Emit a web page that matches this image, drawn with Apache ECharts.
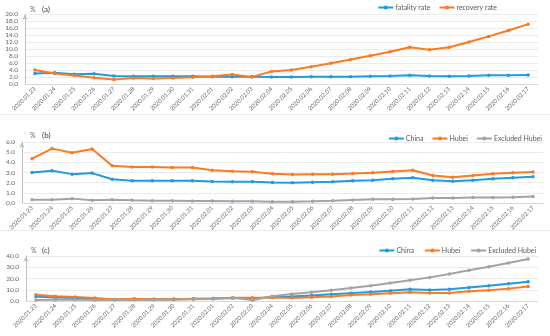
<!DOCTYPE html>
<html>
<head>
<meta charset="utf-8">
<script src="https://cdn.jsdelivr.net/npm/echarts@6/dist/echarts.min.js"></script>
<style>html,body{margin:0;padding:0;background:#fff}#c{width:550px;height:336px}</style>
</head>
<body>
<div id="c"></div>
<script>
const categories = ['2020.01.23','2020.01.24','2020.01.25','2020.01.26','2020.01.27','2020.01.28','2020.01.29','2020.01.30','2020.01.31','2020.02.01','2020.02.02','2020.02.03','2020.02.04','2020.02.05','2020.02.06','2020.02.07','2020.02.08','2020.02.09','2020.02.10','2020.02.11','2020.02.12','2020.02.13','2020.02.14','2020.02.15','2020.02.16','2020.02.17'];

// panel (a)
const fatalityRate = [3.0,3.2,2.8,2.9,2.3,2.2,2.2,2.2,2.2,2.1,2.1,2.1,2.0,2.0,2.05,2.1,2.1,2.2,2.3,2.5,2.3,2.2,2.3,2.5,2.5,2.6];
const recoveryRate = [4.0,3.0,2.4,1.8,1.3,1.7,1.6,1.7,1.9,2.2,2.7,2.0,3.6,4.0,4.9,5.9,7.0,8.1,9.2,10.5,9.8,10.5,12.0,13.6,15.3,17.1];

// panel (b)
const bChina = [3.0,3.17,2.84,2.94,2.34,2.18,2.18,2.18,2.18,2.11,2.08,2.08,2.01,1.98,2.05,2.08,2.18,2.24,2.38,2.48,2.24,2.14,2.24,2.38,2.48,2.57];
const bHubei = [4.36,5.35,4.95,5.31,3.66,3.53,3.53,3.5,3.5,3.23,3.13,3.07,2.87,2.8,2.84,2.84,2.9,2.97,3.1,3.23,2.7,2.54,2.7,2.87,2.97,3.04];
const bExcl = [0.33,0.33,0.43,0.26,0.33,0.26,0.23,0.23,0.2,0.2,0.17,0.17,0.13,0.13,0.17,0.23,0.3,0.36,0.36,0.4,0.5,0.5,0.53,0.53,0.56,0.63];

// panel (c)
const cChina = [3.9,3.0,2.6,1.8,1.3,1.6,1.6,1.7,1.9,2.2,2.7,2.0,3.6,4.0,4.9,5.9,7.0,8.1,9.2,10.5,9.8,10.5,12.0,13.6,15.3,17.1];
const cHubei = [5.6,4.2,3.6,2.7,1.4,1.9,1.6,1.6,1.9,2.2,2.8,3.0,3.0,2.7,3.3,4.1,5.3,5.9,6.8,7.7,7.1,7.1,8.6,9.5,11.0,12.8];
const cExcl = [0.9,1.1,1.1,0.9,0.9,0.9,1.2,1.2,1.5,1.8,3.0,0.6,4.2,6.2,7.7,9.5,11.6,13.6,16.0,18.4,21.0,24.0,27.3,30.5,33.8,37.3];

const BLUE = '#1f9be0', ORANGE = '#fb7a22', GRAY = '#a3a3a3';
const FONT = 'Lato, "Open Sans", sans-serif';

function xAx(i) {
  return {
    type: 'category', gridIndex: i, data: categories, boundaryGap: true,
    axisLine: { lineStyle: { color: '#d9d9d9' } },
    axisTick: { show: false },
    axisLabel: { rotate: 45, fontSize: 6, color: '#666', margin: 4, fontFamily: FONT, interval: 0 }
  };
}
function yAx(i, max, interval) {
  return {
    type: 'value', gridIndex: i, min: 0, max: max, interval: interval,
    axisLine: { show: true, symbol: ['none', 'arrow'], symbolSize: [4, 6], lineStyle: { color: '#bfbfbf', width: 1 } },
    axisTick: { show: false },
    splitLine: { lineStyle: { color: '#ebebeb' } },
    axisLabel: { fontSize: 6.5, color: '#666', margin: 7, fontFamily: FONT, formatter: v => v.toFixed(1) }
  };
}
function ser(name, data, color, i) {
  return {
    name: name, type: 'line', xAxisIndex: i, yAxisIndex: i, data: data,
    symbol: 'circle', symbolSize: 3.5, showSymbol: true,
    lineStyle: { color: color, width: 2 }, itemStyle: { color: color },
    emphasis: { disabled: true }
  };
}
const legendCommon = {
  orient: 'horizontal', padding: 0,
  itemWidth: 15, itemHeight: 5, itemGap: 8,
  textStyle: { fontSize: 7, color: '#595959', fontFamily: FONT, padding: [0, 0, 0, -3] },
  selectedMode: false
};

const option = {
  animation: false,
  backgroundColor: '#fff',
  grid: [
    { left: 25, right: 12, top: 14, height: 70 },
    { left: 22, right: 7, top: 142, height: 61 },
    { left: 26, right: 12, top: 256, height: 45 }
  ],
  xAxis: [xAx(0), xAx(1), xAx(2)],
  yAxis: [yAx(0, 20, 2), yAx(1, 6, 1), yAx(2, 40, 10)],
  legend: [
    Object.assign({}, legendCommon, { data: ['fatality rate', 'recovery rate'], right: 53, top: 4 }),
    Object.assign({}, legendCommon, { data: ['China', 'Hubei', 'Excluded Hubei'], right: 8, top: 135 }),
    Object.assign({}, legendCommon, { data: ['China ', 'Hubei ', 'Excluded Hubei '], right: 12, top: 247 })
  ],
  series: [
    ser('fatality rate', fatalityRate, BLUE, 0),
    ser('recovery rate', recoveryRate, ORANGE, 0),
    ser('China', bChina, BLUE, 1),
    ser('Hubei', bHubei, ORANGE, 1),
    ser('Excluded Hubei', bExcl, GRAY, 1),
    ser('China ', cChina, BLUE, 2),
    ser('Hubei ', cHubei, ORANGE, 2),
    ser('Excluded Hubei ', cExcl, GRAY, 2)
  ],
  graphic: [
    { type: 'text', left: 30, top: 6, style: { text: '%', fontSize: 7, fill: '#666', fontFamily: FONT } },
    { type: 'text', left: 42, top: 5, style: { text: '(a)', fontSize: 8, fill: '#444', fontFamily: FONT } },
    { type: 'text', left: 30, top: 132, style: { text: '%', fontSize: 7, fill: '#666', fontFamily: FONT } },
    { type: 'text', left: 42, top: 131, style: { text: '(b)', fontSize: 8, fill: '#444', fontFamily: FONT } },
    { type: 'text', left: 31, top: 247, style: { text: '%', fontSize: 7, fill: '#666', fontFamily: FONT } },
    { type: 'text', left: 42, top: 246, style: { text: '(c)', fontSize: 8, fill: '#444', fontFamily: FONT } },
    { type: 'line', shape: { x1: 0, y1: 114.5, x2: 550, y2: 114.5 }, style: { stroke: '#ececec', lineWidth: 1 } },
    { type: 'line', shape: { x1: 0, y1: 230.5, x2: 550, y2: 230.5 }, style: { stroke: '#ececec', lineWidth: 1 } }
  ]
};
const chart = echarts.init(document.getElementById('c'), null, { renderer: 'canvas' });
chart.setOption(option);
</script>
</body>
</html>
